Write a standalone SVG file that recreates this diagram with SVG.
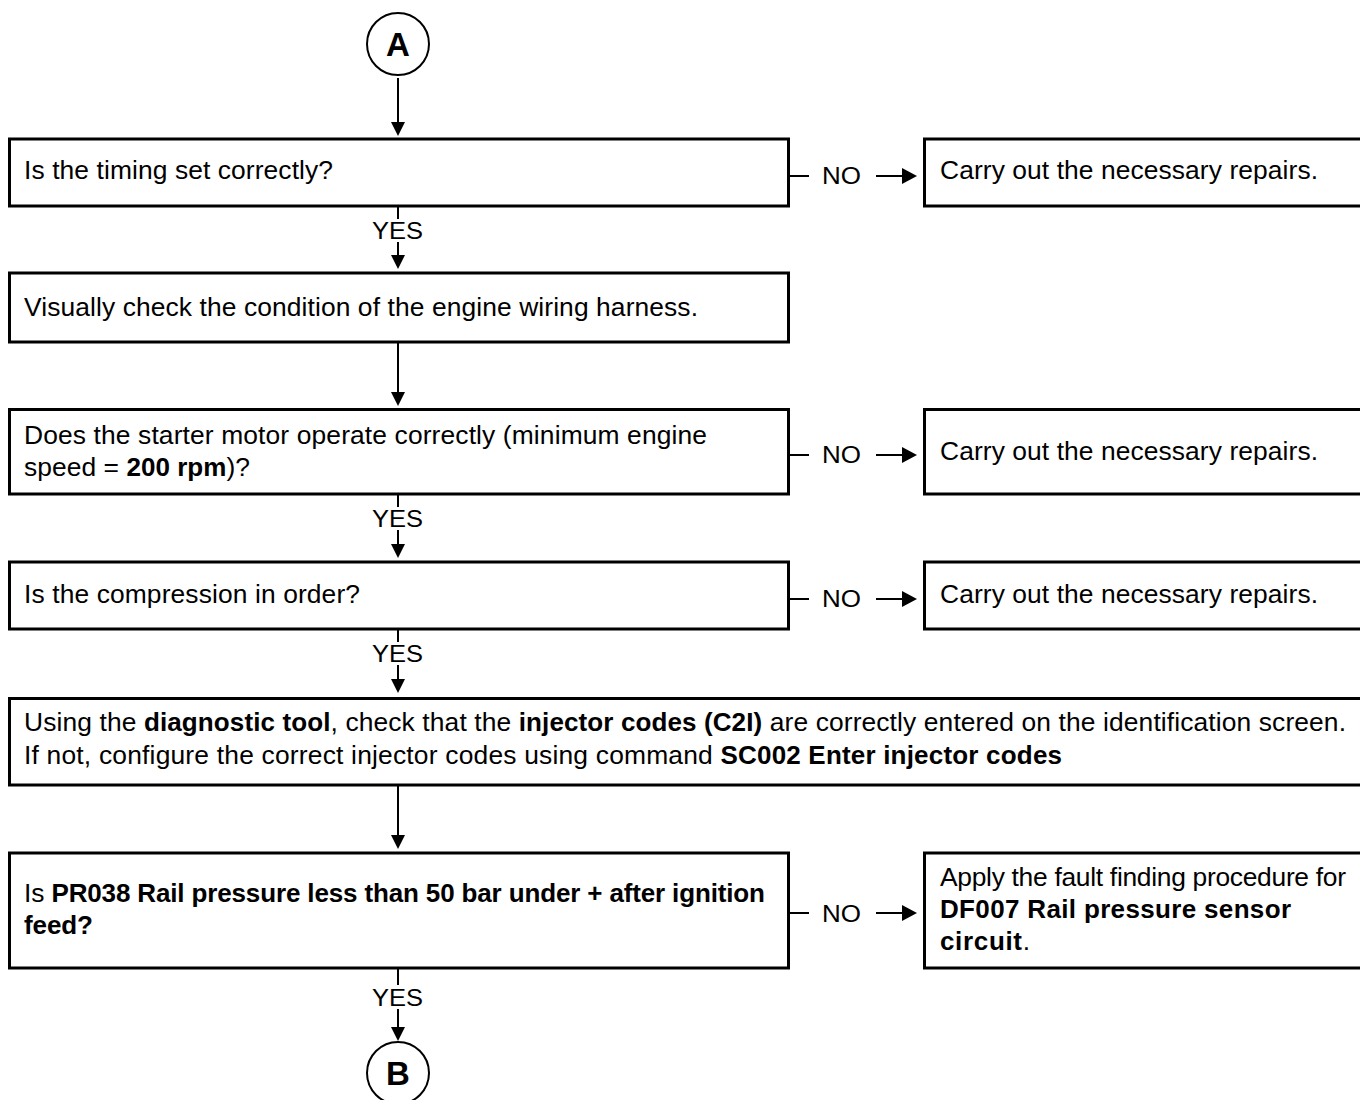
<svg xmlns="http://www.w3.org/2000/svg" width="1360" height="1100" viewBox="0 0 1360 1100">
<style>
.box{fill:#fff;stroke:#000;stroke-width:3}
.circ{fill:#fff;stroke:#000;stroke-width:2}
.ln{stroke:#000;stroke-width:2;fill:none}
text{font-family:"Liberation Sans",Arial,sans-serif;fill:#000}
.t{font-size:26.4px}
.lbl{font-size:24px}
.big{font-size:33px;font-weight:bold}
.b{font-weight:bold;font-size:26px}
</style>
<defs>
<path id="adn" d="M-7,-14 L7,-14 L0,0 z" fill="#000"/>
<path id="art" d="M-15,-8 L0,0 L-15,8 z" fill="#000"/>
</defs>
<rect width="1360" height="1100" fill="#fff"/>
<g id="connectors">
<line class="ln" x1="398" y1="78" x2="398" y2="124"/>
<use href="#adn" x="398" y="136"/>
<line class="ln" x1="398" y1="206" x2="398" y2="219"/>
<line class="ln" x1="398" y1="242" x2="398" y2="258"/>
<use href="#adn" x="398" y="269"/>
<line class="ln" x1="398" y1="342" x2="398" y2="395"/>
<use href="#adn" x="398" y="406"/>
<line class="ln" x1="398" y1="494" x2="398" y2="507"/>
<line class="ln" x1="398" y1="530" x2="398" y2="547"/>
<use href="#adn" x="398" y="558"/>
<line class="ln" x1="398" y1="629" x2="398" y2="642"/>
<line class="ln" x1="398" y1="665" x2="398" y2="682"/>
<use href="#adn" x="398" y="693"/>
<line class="ln" x1="398" y1="785" x2="398" y2="838"/>
<use href="#adn" x="398" y="849"/>
<line class="ln" x1="398" y1="968" x2="398" y2="985"/>
<line class="ln" x1="398" y1="1009" x2="398" y2="1029"/>
<use href="#adn" x="398" y="1041"/>
<line class="ln" x1="789" y1="176" x2="809" y2="176"/>
<line class="ln" x1="876" y1="176" x2="904" y2="176"/>
<use href="#art" x="917" y="176"/>
<line class="ln" x1="789" y1="455" x2="809" y2="455"/>
<line class="ln" x1="876" y1="455" x2="904" y2="455"/>
<use href="#art" x="917" y="455"/>
<line class="ln" x1="789" y1="599" x2="809" y2="599"/>
<line class="ln" x1="876" y1="599" x2="904" y2="599"/>
<use href="#art" x="917" y="599"/>
<line class="ln" x1="789" y1="913" x2="809" y2="913"/>
<line class="ln" x1="876" y1="913" x2="904" y2="913"/>
<use href="#art" x="917" y="913"/>
<text class="lbl" x="372" y="239" textLength="51" lengthAdjust="spacingAndGlyphs">YES</text>
<text class="lbl" x="372" y="527" textLength="51" lengthAdjust="spacingAndGlyphs">YES</text>
<text class="lbl" x="372" y="662" textLength="51" lengthAdjust="spacingAndGlyphs">YES</text>
<text class="lbl" x="372" y="1006" textLength="51" lengthAdjust="spacingAndGlyphs">YES</text>
<text class="lbl" x="822" y="184" textLength="39" lengthAdjust="spacingAndGlyphs">NO</text>
<text class="lbl" x="822" y="463" textLength="39" lengthAdjust="spacingAndGlyphs">NO</text>
<text class="lbl" x="822" y="607" textLength="39" lengthAdjust="spacingAndGlyphs">NO</text>
<text class="lbl" x="822" y="922" textLength="39" lengthAdjust="spacingAndGlyphs">NO</text>
</g>
<g id="nodeA">
<circle class="circ" cx="398" cy="44" r="31"/>
<text class="big" x="398" y="56" text-anchor="middle">A</text>
</g>
<g id="q1">
<rect class="box" x="9.5" y="139" width="779" height="67"/>
<text class="t" x="24" y="179" textLength="309">Is the timing set correctly?</text>
</g>
<g id="r1">
<rect class="box" x="924.5" y="139" width="450" height="67"/>
<text class="t" x="940" y="179" textLength="378">Carry out the necessary repairs.</text>
</g>
<g id="s2">
<rect class="box" x="9.5" y="273" width="779" height="69"/>
<text class="t" x="24" y="316" textLength="674">Visually check the condition of the engine wiring harness.</text>
</g>
<g id="q3">
<rect class="box" x="9.5" y="409.5" width="779" height="84.5"/>
<text class="t" x="24" y="444" textLength="683">Does the starter motor operate correctly (minimum engine</text>
<text class="t" x="24" y="476" textLength="226">speed = <tspan class="b">200 rpm</tspan>)?</text>
</g>
<g id="r3">
<rect class="box" x="924.5" y="409.5" width="450" height="84.5"/>
<text class="t" x="940" y="460" textLength="378">Carry out the necessary repairs.</text>
</g>
<g id="q4">
<rect class="box" x="9.5" y="562" width="779" height="67"/>
<text class="t" x="24" y="603" textLength="336">Is the compression in order?</text>
</g>
<g id="r4">
<rect class="box" x="924.5" y="562" width="450" height="67"/>
<text class="t" x="940" y="603" textLength="378">Carry out the necessary repairs.</text>
</g>
<g id="s5">
<rect class="box" x="9.5" y="698.5" width="1370" height="86.5"/>
<text class="t" x="24" y="731" textLength="1322">Using the <tspan class="b">diagnostic tool</tspan>, check that the <tspan class="b">injector codes (C2I)</tspan> are correctly entered on the identification screen.</text>
<text class="t" x="24" y="764" textLength="1038">If not, configure the correct injector codes using command <tspan class="b">SC002 Enter injector codes</tspan></text>
</g>
<g id="q6">
<rect class="box" x="9.5" y="853" width="779" height="115"/>
<text class="t" x="24" y="902" textLength="741">Is <tspan class="b">PR038 Rail pressure less than 50 bar under + after ignition</tspan></text>
<text class="t" x="24" y="934" textLength="69"><tspan class="b">feed?</tspan></text>
</g>
<g id="r6">
<rect class="box" x="924.5" y="853" width="450" height="115"/>
<text class="t" x="940" y="886" textLength="406">Apply the fault finding procedure for</text>
<text class="t" x="940" y="918" textLength="351"><tspan class="b">DF007 Rail pressure sensor</tspan></text>
<text class="t" x="940" y="950" textLength="90"><tspan class="b">circuit</tspan>.</text>
</g>
<g id="nodeB">
<circle class="circ" cx="398" cy="1073" r="31"/>
<text class="big" x="398" y="1085" text-anchor="middle">B</text>
</g>
</svg>
